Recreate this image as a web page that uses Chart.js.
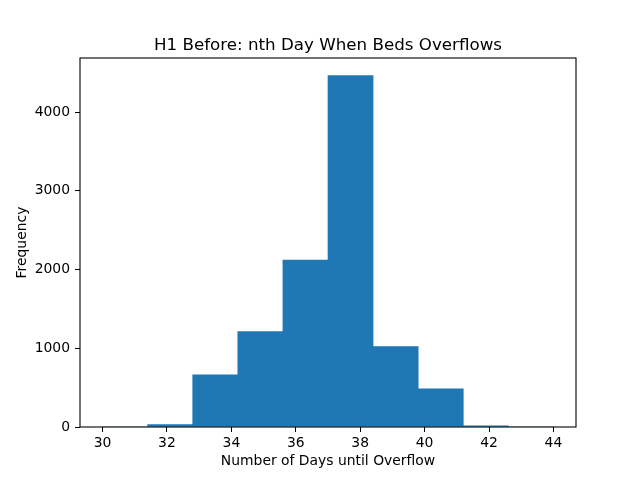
<!DOCTYPE html>
<html>
<head>
<meta charset="utf-8">
<script src="https://cdn.jsdelivr.net/npm/chart.js@4"></script>
<style>
    html, body { margin: 0; padding: 0; background: #fff; }
    canvas { display: block; }
</style>
</head>
<body>
<canvas id="histChart" width="640" height="480"></canvas>
<script>
// histogram bins (edges) and counts
const binEdges = [30, 31.4, 32.8, 34.2, 35.6, 37.0, 38.4, 39.8, 41.2, 42.6, 44];
const counts = [0, 30, 664, 1212, 2122, 4465, 1022, 486, 14, 0];
const xTicks = [30, 32, 34, 36, 38, 40, 42, 44];
const yTicks = [0, 1000, 2000, 3000, 4000];
const chartTitle = 'H1 Before: nth Day When Beds Overflows';

const xMin = 29.3, xMax = 44.7, yMax = 4688;

const fontFamily = '"DejaVu Sans", sans-serif';
const tickFont = { family: fontFamily, size: 13.9 };

const points = counts.map((c, i) => ({ x: (binEdges[i] + binEdges[i + 1]) / 2, y: c }));

// matplotlib style box around the axes + title centred over the axes
const frame = {
    id: 'frame',
    afterDraw(chart) {
        const a = chart.chartArea;
        const ctx = chart.ctx;
        ctx.save();
        ctx.strokeStyle = '#000';
        ctx.lineWidth = 1.1;
        ctx.strokeRect(a.left, a.top, a.right - a.left, a.bottom - a.top);
        ctx.fillStyle = '#000';
        ctx.font = '16.7px ' + fontFamily;
        ctx.textAlign = 'center';
        ctx.textBaseline = 'alphabetic';
        ctx.fillText(chartTitle, (a.left + a.right) / 2, a.top - 8);
        ctx.restore();
    }
};

const ctx = document.getElementById('histChart').getContext('2d');
new Chart(ctx, {
    type: 'bar',
    data: {
        datasets: [{
            data: points,
            backgroundColor: '#1f77b4',
            borderWidth: 0,
            barPercentage: 1,
            categoryPercentage: 1
        }]
    },
    options: {
        responsive: false,
        animation: false,
        devicePixelRatio: 1,
        layout: { padding: { left: 0, right: 64, top: 58, bottom: 0 } },
        plugins: {
            legend: { display: false },
            tooltip: { enabled: false },
            title: { display: false }
        },
        scales: {
            x: {
                type: 'linear',
                min: xMin,
                max: xMax,
                offset: false,
                afterBuildTicks: function (scale) {
                    scale.ticks = xTicks.map(v => ({ value: v }));
                },
                afterFit: function (scale) { scale.height = 53; },
                grid: { offset: false, drawOnChartArea: false, drawTicks: true, tickLength: 5, color: '#000', lineWidth: 1 },
                border: { display: false },
                ticks: { color: '#000', font: tickFont, padding: 3, maxRotation: 0,
                    callback: v => String(v) },
                title: {
                    display: true,
                    text: 'Number of Days until Overflow',
                    color: '#000',
                    font: tickFont,
                    padding: { top: 0, bottom: 10 }
                }
            },
            y: {
                min: 0,
                max: yMax,
                afterBuildTicks: function (scale) {
                    scale.ticks = yTicks.map(v => ({ value: v }));
                },
                afterFit: function (scale) { scale.width = 80; },
                grid: { offset: false, drawOnChartArea: false, drawTicks: true, tickLength: 5, color: '#000', lineWidth: 1 },
                border: { display: false },
                ticks: { color: '#000', font: tickFont, padding: 5,
                    callback: v => String(v) },
                title: {
                    display: true,
                    text: 'Frequency',
                    color: '#000',
                    font: tickFont,
                    padding: { top: 14, bottom: 0 }
                }
            }
        }
    },
    plugins: [frame]
});
</script>
</body>
</html>
